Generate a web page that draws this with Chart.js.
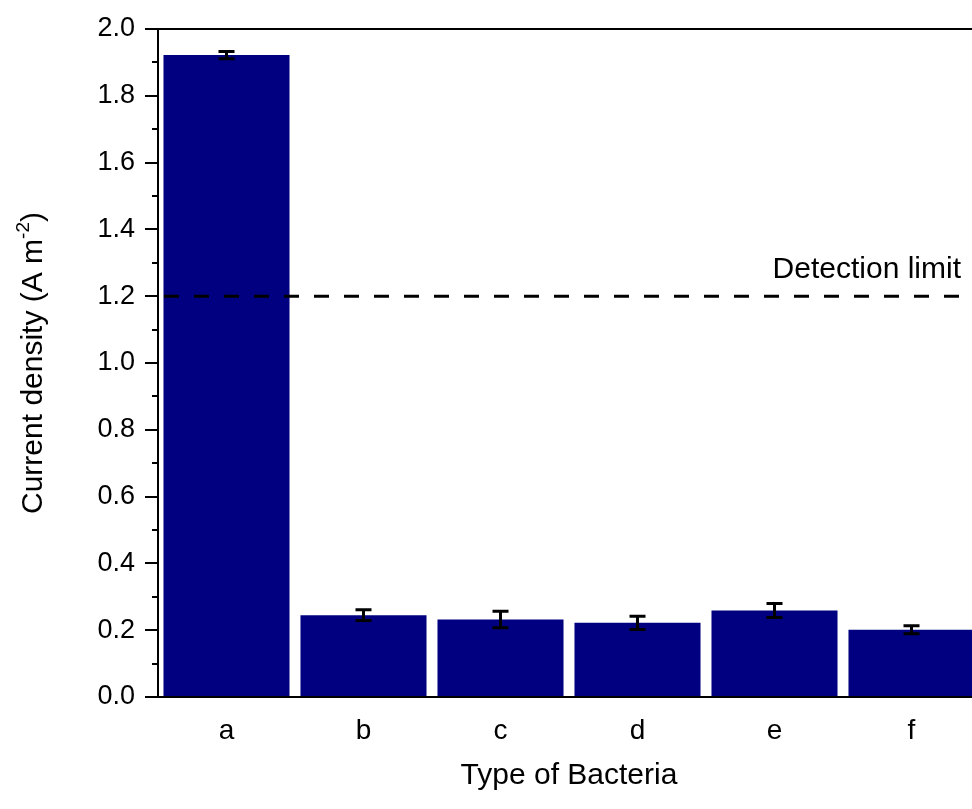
<!DOCTYPE html>
<html>
<head>
<meta charset="utf-8">
<script src="https://cdn.jsdelivr.net/npm/chart.js@4.4.1/dist/chart.umd.min.js"></script>
<style>
  html, body { margin: 0; padding: 0; background: #fff; overflow: hidden; }
  #grafico { display: block; }
</style>
</head>
<body>
<canvas id="grafico" width="990" height="809"></canvas>
<script>
const categorias = ["a", "b", "c", "d", "e", "f"];
const densidad = [1.922, 0.245, 0.232, 0.222, 0.259, 0.201];
const errores = [0.011, 0.016, 0.025, 0.020, 0.021, 0.012];
const limiteDeteccion = 1.2;
const ticksMenores = [0.1, 0.3, 0.5, 0.7, 0.9, 1.1, 1.3, 1.5, 1.7, 1.9];

const FUENTE = "'Liberation Sans', Arial, sans-serif";

// Barras de error, linea de deteccion, ticks menores y titulo Y
const extras = {
    id: "extras",
    afterDatasetsDraw(chart) {
        const { ctx, chartArea, scales } = chart;
        const y = scales.y;
        const meta = chart.getDatasetMeta(0);
        ctx.save();

        // barras de error
        ctx.strokeStyle = "#000";
        ctx.lineWidth = 3;
        meta.data.forEach((barra, i) => {
            const yArr = y.getPixelForValue(densidad[i] + errores[i]);
            const yAba = y.getPixelForValue(densidad[i] - errores[i]);
            const x = barra.x;
            ctx.beginPath();
            ctx.moveTo(x, yArr); ctx.lineTo(x, yAba);
            ctx.moveTo(x - 8, yArr); ctx.lineTo(x + 8, yArr);
            ctx.moveTo(x - 8, yAba); ctx.lineTo(x + 8, yAba);
            ctx.stroke();
        });

        // linea de limite de deteccion
        const yLim = y.getPixelForValue(limiteDeteccion);
        ctx.setLineDash([15, 15]);
        ctx.lineDashOffset = 24;
        ctx.lineWidth = 3;
        ctx.beginPath();
        ctx.moveTo(chartArea.left, yLim);
        ctx.lineTo(chartArea.right, yLim);
        ctx.stroke();
        ctx.setLineDash([]);

        ctx.fillStyle = "#000";
        ctx.font = `30px ${FUENTE}`;
        ctx.textAlign = "right";
        ctx.textBaseline = "alphabetic";
        ctx.fillText("Detection limit", 961, yLim - 18);

        // borde superior
        ctx.lineWidth = 2;
        ctx.beginPath();
        ctx.moveTo(chartArea.left - 13, chartArea.top);
        ctx.lineTo(chartArea.right, chartArea.top);
        ctx.stroke();

        // ticks menores
        ticksMenores.forEach(v => {
            const py = Math.round(y.getPixelForValue(v));
            ctx.beginPath();
            ctx.moveTo(chartArea.left - 6, py);
            ctx.lineTo(chartArea.left, py);
            ctx.stroke();
        });

        // titulo del eje Y con superindice
        ctx.translate(42, (chartArea.top + chartArea.bottom) / 2);
        ctx.rotate(-Math.PI / 2);
        ctx.font = `30px ${FUENTE}`;
        const parte1 = "Current density (A m";
        const sup = "-2";
        const parte2 = ")";
        const w1 = ctx.measureText(parte1).width;
        ctx.font = `19px ${FUENTE}`;
        const wS = ctx.measureText(sup).width;
        ctx.font = `30px ${FUENTE}`;
        const w2 = ctx.measureText(parte2).width;
        const x0 = -(w1 + wS + w2) / 2;
        ctx.textAlign = "left";
        ctx.fillText(parte1, x0, 0);
        ctx.font = `19px ${FUENTE}`;
        ctx.fillText(sup, x0 + w1, -13);
        ctx.font = `30px ${FUENTE}`;
        ctx.fillText(parte2, x0 + w1 + wS, 0);

        ctx.restore();
    },
};

new Chart(document.getElementById("grafico").getContext("2d"), {
    type: "bar",
    data: {
        labels: categorias,
        datasets: [{
            data: densidad,
            backgroundColor: "#000080",
            borderWidth: 0,
            categoryPercentage: 0.92,
            barPercentage: 1.0,
        }],
    },
    options: {
        responsive: false,
        animation: false,
        layout: { padding: { top: 29, right: 10, bottom: 0, left: 0 } },
        plugins: { legend: { display: false }, tooltip: { enabled: false } },
        scales: {
            x: {
                grid: { display: false, drawTicks: false },
                border: { display: true, color: "#000", width: 2 },
                ticks: { color: "#000", font: { size: 28, family: FUENTE }, padding: 17 },
                title: {
                    display: true, text: "Type of Bacteria", color: "#000",
                    font: { size: 30, family: FUENTE }, padding: { top: 8, bottom: 15 },
                },
                afterFit: s => { s.height = 112; },
            },
            y: {
                min: 0, max: 2.0,
                grid: { drawOnChartArea: false, drawTicks: true, tickLength: 13, color: "#000", lineWidth: 2 },
                border: { display: true, color: "#000", width: 2 },
                ticks: {
                    stepSize: 0.2, color: "#000", padding: 10,
                    font: { size: 27, family: FUENTE },
                    callback: v => v.toFixed(1),
                },
                afterFit: s => { s.width = 158; },
            },
        },
    },
    plugins: [extras],
});
</script>
</body>
</html>
